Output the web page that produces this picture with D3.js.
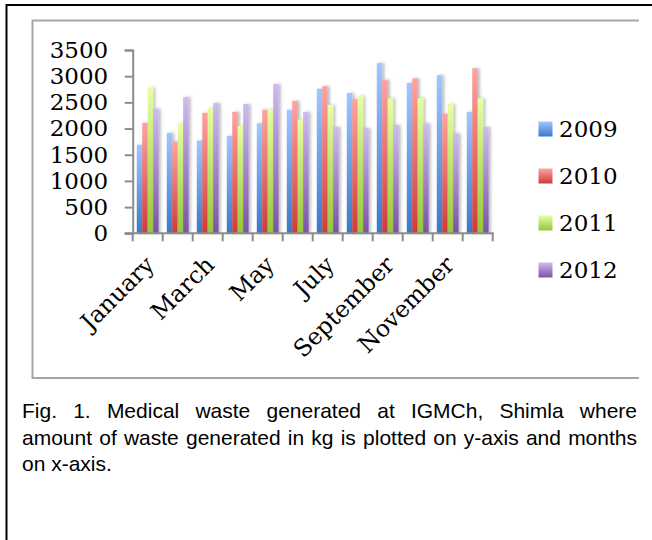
<!DOCTYPE html>
<html><head><meta charset="utf-8">
<script src="https://cdn.jsdelivr.net/npm/d3@7"></script>
<style>html,body{margin:0;padding:0;background:#fff;}svg{display:block;}</style>
</head><body>
<script>
const months = ["January","February","March","April","May","June","July","August","September","October","November","December"];
const shownLabels = ["January","March","May","July","September","November"];
const seriesNames = ["2009","2010","2011","2012"];
const v2009 = [1690,1920,1770,1860,2100,2360,2760,2680,3250,2870,3020,2320];
const v2010 = [2110,1750,2300,2320,2360,2530,2810,2560,2930,2960,2280,3150];
const v2011 = [2780,2100,2390,2050,2370,2170,2450,2620,2580,2580,2470,2580];
const v2012 = [2380,2600,2490,2470,2850,2320,2030,2010,2070,2100,1910,2030];
const yTicks = [0,500,1000,1500,2000,2500,3000,3500];
const captionLines = [
  "Fig. 1. Medical waste generated at IGMCh, Shimla where",
  "amount of waste generated in kg is plotted on y-axis and months",
  "on x-axis."
];
const seriesValues = [v2009, v2010, v2011, v2012];
const gradColors = [["#a3c6ff","#3a78c8"],["#ffa3a0","#cf3b39"],["#e6ffa3","#97c43c"],["#cfbbef","#7954a6"]];

const W = 652, H = 540;
const svg = d3.select("body").append("svg").attr("width", W).attr("height", H);
const defs = svg.append("defs");
gradColors.forEach((c, i) => {
  const g = defs.append("linearGradient").attr("id", "g" + i).attr("x1", 0).attr("y1", 0).attr("x2", 0).attr("y2", 1);
  g.append("stop").attr("offset", "0%").attr("stop-color", c[0]);
  g.append("stop").attr("offset", "100%").attr("stop-color", c[1]);
});
const f = defs.append("filter").attr("id", "sh").attr("x", "-50%").attr("y", "-10%").attr("width", "250%").attr("height", "120%");
f.append("feDropShadow").attr("dx", 2).attr("dy", 0).attr("stdDeviation", 1.8).attr("flood-color", "#000").attr("flood-opacity", 0.28);

// frames
svg.append("path").attr("d", "M6.5,545 V5 H660").attr("fill", "none").attr("stroke", "#000").attr("stroke-width", 2);
svg.append("path").attr("d", "M639,20.5 H32.5 V378 H639").attr("fill", "none").attr("stroke", "#a6a6a6").attr("stroke-width", 2);

const x0 = 132.7, x1 = 492.7, yTop = 50, yBot = 233.3;
const x = d3.scaleBand().domain(months).range([x0, x1]).padding(0);
const bw = x.bandwidth();
const gap = bw / 5.5 * 1.5;
const xs = d3.scaleBand().domain(seriesNames).range([gap / 2, bw - gap / 2]).padding(0);
const y = d3.scaleLinear().domain([0, 3500]).range([yBot, yTop]);

const serif = "'DejaVu Serif', serif";

// bars
const gBars = svg.append("g");
seriesNames.forEach((s, si) => {
  gBars.append("g").attr("filter", "url(#sh)").selectAll("rect").data(months).join("rect")
    .attr("x", (m) => x(m) + xs(s))
    .attr("width", xs.bandwidth())
    .attr("y", (m, i) => y(seriesValues[si][i]))
    .attr("height", (m, i) => yBot - y(seriesValues[si][i]))
    .attr("fill", "url(#g" + si + ")");
});

// y axis
const ya = svg.append("g").attr("transform", `translate(${x0},0)`)
  .call(d3.axisLeft(y).tickValues(yTicks).tickSize(8).tickPadding(16.5).tickFormat(d3.format("d")));
ya.select(".domain").attr("stroke", "#8c8c8c").attr("stroke-width", 2);
ya.selectAll(".tick line").attr("stroke", "#8c8c8c").attr("stroke-width", 2);
ya.selectAll("text").attr("font-family", serif).attr("font-size", 23).attr("fill", "#000");

// x axis
const xa = svg.append("g").attr("transform", `translate(0,${yBot})`)
  .call(d3.axisBottom(x).tickSize(0).tickFormat(d => shownLabels.includes(d) ? d : ""));
xa.select(".domain").remove();
xa.selectAll("text").attr("font-family", serif).attr("font-size", 23.5).attr("fill", "#000")
  .attr("text-anchor", "end").attr("dy", 0).attr("y", 0)
  .attr("transform", "translate(8,33) rotate(-45)");
svg.append("line").attr("x1", x0 - 8).attr("x2", x1 + 1).attr("y1", yBot).attr("y2", yBot)
  .attr("stroke", "#8c8c8c").attr("stroke-width", 2);
const bounds = months.map(m => x(m)).concat([x1]);
svg.append("g").selectAll("line").data(bounds).join("line")
  .attr("x1", d => d).attr("x2", d => d).attr("y1", yBot).attr("y2", yBot + 8)
  .attr("stroke", "#8c8c8c").attr("stroke-width", 2);

// legend
const leg = svg.append("g");
seriesNames.forEach((s, i) => {
  const cy = 129 + i * 47;
  leg.append("rect").attr("x", 538.5).attr("y", cy - 7.5).attr("width", 14).attr("height", 15).attr("fill", "url(#g" + i + ")");
  leg.append("text").attr("x", 559).attr("y", cy).attr("dy", "0.36em").attr("font-family", serif).attr("font-size", 23).text(s);
});

// caption (justified)
const capFont = "'Liberation Sans', Arial, sans-serif";
const capX0 = 22, capX1 = 637, capSize = 21;
captionLines.forEach((line, li) => {
  const by = 418 + li * 26.5;
  const words = line.split(" ");
  const g = svg.append("g");
  const ts = words.map(w => g.append("text").attr("font-family", capFont).attr("font-size", capSize).attr("y", by).text(w));
  const widths = ts.map(t => t.node().getComputedTextLength());
  const total = d3.sum(widths);
  const justify = li < captionLines.length - 1;
  const spaceW = justify ? (capX1 - capX0 - total) / (words.length - 1) : capSize * 0.278;
  let cx = capX0;
  ts.forEach((t, i) => { t.attr("x", cx); cx += widths[i] + spaceW; });
});
</script>
</body></html>
